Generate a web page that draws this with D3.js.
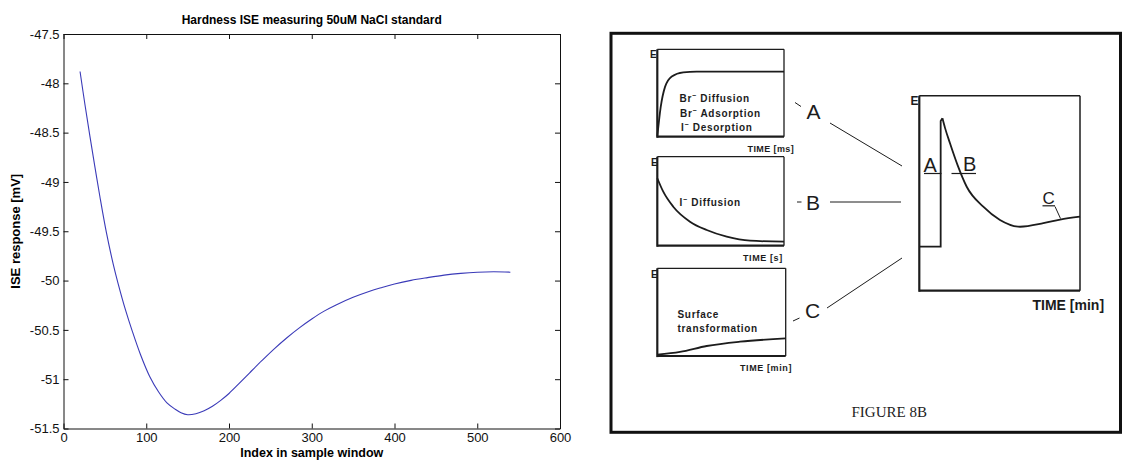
<!DOCTYPE html>
<html><head><meta charset="utf-8">
<script src="https://cdn.jsdelivr.net/npm/d3@7"></script>
<style>body{margin:0;background:#fff}svg{display:block}</style>
</head><body>
<svg id="c" width="1122" height="461"></svg>
<script>
// ---------- LEFT CHART DATA ----------
const chartTitle = "Hardness ISE measuring 50uM NaCl standard";
const xLabel = "Index in sample window";
const yLabel = "ISE response [mV]";
const sampleIndex = [20,26,32,38,44,52,60,66,75,83,93,104,115,125,135,142,150,160,170,180,190,200,212,225,240,255,270,285,300,315,330,350,370,385,400,420,440,460,480,500,520,540];
const iseMv = [-47.88,-48.22,-48.54,-48.85,-49.15,-49.52,-49.83,-50.03,-50.3,-50.51,-50.75,-50.97,-51.13,-51.24,-51.305,-51.34,-51.36,-51.35,-51.32,-51.275,-51.215,-51.145,-51.045,-50.935,-50.81,-50.69,-50.58,-50.48,-50.39,-50.31,-50.245,-50.17,-50.108,-50.07,-50.035,-49.998,-49.97,-49.945,-49.927,-49.915,-49.91,-49.915];
const xTicks = [0,100,200,300,400,500,600];
const yTicks = [-51.5,-51,-50.5,-50,-49.5,-49,-48.5,-48,-47.5];

// ---------- RIGHT FIGURE DATA (schematic, normalised time / E) ----------
const curveA_t = [0,0.027,0.061,0.114,0.205,0.31,1];
const curveA_e = [0,0.34,0.57,0.69,0.737,0.744,0.744];
const curveB_t = [0,0.047,0.126,0.258,0.39,0.548,0.732,1];
const curveB_e = [0.758,0.607,0.438,0.27,0.176,0.101,0.056,0.045];
const curveC_t = [0,0.177,0.385,0.644,1];
const curveC_e = [0.015,0.046,0.114,0.163,0.2];
const mainStep_t = [0,0.133,0.133,0.144];
const mainStep_e = [0.226,0.226,0.87,0.884];
const mainDecay_t = [0.144,0.16,0.191,0.24,0.295,0.398,0.502,0.627,0.772,0.876,1];
const mainDecay_e = [0.884,0.835,0.756,0.64,0.533,0.431,0.363,0.328,0.346,0.365,0.38];
const panelTexts = {
  A: [["Br","Diffusion"],["Br","Adsorption"],["I","Desorption"]],
  B: [["I","Diffusion"]],
  C: [["","Surface"],["","transformation"]]
};
const panelTime = {A:"TIME [ms]", B:"TIME [s]", C:"TIME [min]"};
const figureCaption = "FIGURE 8B";

// ---------- LEFT CHART ----------
const svg = d3.select("#c");
const M = {l:63.5, r:560, t:34, b:428.5};
const x = d3.scaleLinear().domain([0,600]).range([M.l,M.r]);
const y = d3.scaleLinear().domain([-51.5,-47.5]).range([M.b,M.t]);
const fmt = d => String(d);
const none = () => "";
const FONT = "'Liberation Sans',Arial,Helvetica,sans-serif";

const L = svg.append("g");
function styleAxis(g){
  g.attr("font-family",FONT).attr("font-size",13);
  g.selectAll("text").attr("fill","#111");
  g.selectAll("line,path").attr("stroke","#111").attr("stroke-width",1);
}
L.append("g").attr("transform",`translate(0,${M.b})`)
  .call(d3.axisBottom(x).tickValues(xTicks).tickFormat(fmt).tickSizeInner(-5).tickSizeOuter(0).tickPadding(4)).call(styleAxis);
L.append("g").attr("transform",`translate(0,${M.t})`)
  .call(d3.axisTop(x).tickValues(xTicks).tickFormat(none).tickSizeInner(-5).tickSizeOuter(0)).call(styleAxis);
L.append("g").attr("transform",`translate(${M.l},0)`)
  .call(d3.axisLeft(y).tickValues(yTicks).tickFormat(fmt).tickSizeInner(-5).tickSizeOuter(0).tickPadding(4)).call(styleAxis);
L.append("g").attr("transform",`translate(${M.r},0)`)
  .call(d3.axisRight(y).tickValues(yTicks).tickFormat(none).tickSizeInner(-5).tickSizeOuter(0)).call(styleAxis);

const pts = sampleIndex.map((d,i)=>[d,iseMv[i]]);
L.append("path").datum(pts)
  .attr("fill","none").attr("stroke","#3a3ab8").attr("stroke-width",1.1)
  .attr("d", d3.line().x(d=>x(d[0])).y(d=>y(d[1])).curve(d3.curveCatmullRom.alpha(0.5)));

L.append("text").attr("x",(M.l+M.r)/2).attr("y",24).attr("text-anchor","middle")
  .attr("font-family",FONT).attr("font-size",12).attr("font-weight","bold").text(chartTitle);
L.append("text").attr("x",(M.l+M.r)/2).attr("y",457).attr("text-anchor","middle")
  .attr("font-family",FONT).attr("font-size",12.5).attr("font-weight","bold").text(xLabel);
L.append("text").attr("transform",`translate(20,${(M.t+M.b)/2}) rotate(-90)`).attr("text-anchor","middle")
  .attr("font-family",FONT).attr("font-size",13).attr("font-weight","bold").text(yLabel);

// ---------- RIGHT FIGURE ----------
const R = svg.append("g");
const INK = "#1c1c1c";
R.append("rect").attr("x",611).attr("y",33.3).attr("width",509.5).attr("height",399)
  .attr("fill","none").attr("stroke","#111").attr("stroke-width",3);

function panel(box, thick, thin){
  const sx = d3.scaleLinear().domain([0,1]).range([box.x0,box.x1]);
  const sy = d3.scaleLinear().domain([0,1]).range([box.y1,box.y0]);
  R.append("line").attr("x1",box.x0).attr("x2",box.x1).attr("y1",box.y0).attr("y2",box.y0).attr("stroke",INK).attr("stroke-width",thin);
  R.append("line").attr("x1",box.x1).attr("x2",box.x1).attr("y1",box.y0).attr("y2",box.y1).attr("stroke",INK).attr("stroke-width",thin);
  R.append("line").attr("x1",box.x0).attr("x2",box.x0).attr("y1",box.y0).attr("y2",box.y1+thick/2).attr("stroke",INK).attr("stroke-width",thick);
  R.append("line").attr("x1",box.x0).attr("x2",box.x1).attr("y1",box.y1).attr("y2",box.y1).attr("stroke",INK).attr("stroke-width",thick);
  return {sx,sy};
}
function drawCurve(sc, ts, es, curve, w){
  R.append("path").datum(ts.map((t,i)=>[t,es[i]]))
    .attr("fill","none").attr("stroke",INK).attr("stroke-width",w)
    .attr("d", d3.line().x(d=>sc.sx(d[0])).y(d=>sc.sy(d[1])).curve(curve));
}
function txt(xp,yp,s,size,opts={}){
  const t = R.append("text").attr("x",xp).attr("y",yp).attr("font-family",opts.family||FONT)
    .attr("font-size",size).attr("fill",INK)
    .attr("font-weight",opts.weight||"normal")
    .attr("letter-spacing",opts.ls||0)
    .attr("text-anchor",opts.anchor||"start");
  t.text(s);
  return t;
}
function ionLine(xp,yp,pair){
  const t = R.append("text").attr("x",xp).attr("y",yp).attr("font-family",FONT)
    .attr("font-size",10).attr("font-weight","bold").attr("fill",INK).attr("letter-spacing",0.7);
  if(pair[0]){
    t.append("tspan").text(pair[0]);
    t.append("tspan").attr("dy",-4).attr("font-size",7).text("\u2212");
    t.append("tspan").attr("dy",4).text(" " + pair[1]);
  } else t.append("tspan").text(pair[1]);
}
const boxA = {x0:657.3,x1:784,y0:49.3,y1:136.7};
const boxB = {x0:657.3,x1:784,y0:156.7,y1:245.7};
const boxC = {x0:657.3,x1:785.7,y0:268.3,y1:356};
const boxM = {x0:919.3,x1:1080,y0:95.7,y1:290.7};

const sA = panel(boxA,2.2,1.3);
drawCurve(sA,curveA_t,curveA_e,d3.curveMonotoneX,1.8);
const sB = panel(boxB,2.2,1.3);
drawCurve(sB,curveB_t,curveB_e,d3.curveMonotoneX,1.8);
const sC = panel(boxC,2.2,1.3);
drawCurve(sC,curveC_t,curveC_e,d3.curveMonotoneX,1.8);
const sM = panel(boxM,2.2,1.5);
drawCurve(sM,mainStep_t,mainStep_e,d3.curveLinear,1.8);
drawCurve(sM,mainDecay_t,mainDecay_e,d3.curveMonotoneX,1.8);

// E labels
[[650,57.5],[651,166],[651,277.5],[910.5,105]].forEach((p,i)=>txt(p[0],p[1],"E",i===3?12:10,{weight:"bold"}));

// panel texts
ionLine(679.5,101.5,panelTexts.A[0]);
ionLine(680,116.5,panelTexts.A[1]);
ionLine(681,131,panelTexts.A[2]);
ionLine(679.5,206,panelTexts.B[0]);
ionLine(677.5,318,panelTexts.C[0]);
ionLine(677.5,332,panelTexts.C[1]);

txt(747.5,152,panelTime.A,9,{weight:"bold",ls:0.4});
txt(743,260.5,panelTime.B,9,{weight:"bold",ls:0.6});
txt(740,370.5,panelTime.C,9,{weight:"bold",ls:0.6});

// big letters and connector lines
txt(806.5,118.5,"A",21);
txt(806,210,"B",21);
txt(805,317.5,"C",21);
const seg = (x1,y1,x2,y2,w)=>R.append("line").attr("x1",x1).attr("y1",y1).attr("x2",x2).attr("y2",y2).attr("stroke",INK).attr("stroke-width",w||1);
seg(795,102.5,801,106.5);
seg(797,202,801.5,202);
seg(793,321,799.5,318);
seg(830,123,902,166);
seg(830,202,901,202);
seg(827,308,902,258);

// main chart labels
txt(923.5,171.7,"A",20);
seg(924,173.5,941.5,173.5,1.2);
txt(963,170.7,"B",20);
seg(951.5,173.5,976,173.5,1.2);
txt(1042.5,204,"C",17);
seg(1042.5,205.8,1055,205.8,1.2);
seg(1055,206.5,1060.5,218.5,1);
txt(1032.5,310,"TIME [min]",14,{weight:"bold"});
txt(851.5,416.5,figureCaption,15,{family:"'Liberation Serif','Times New Roman',serif"});
</script>
</body></html>
